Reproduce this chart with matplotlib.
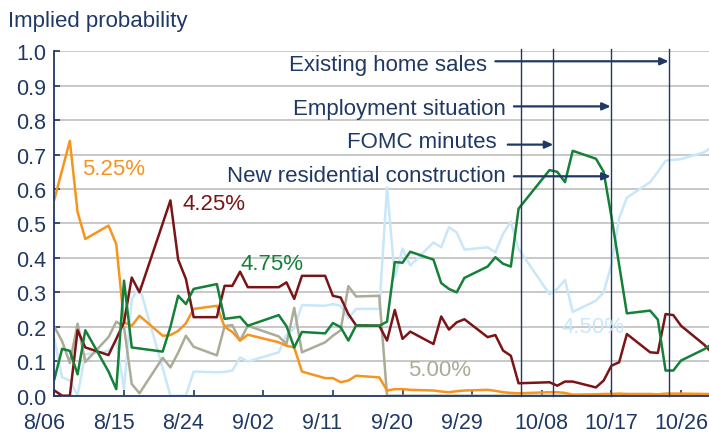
import matplotlib
matplotlib.use("Agg")
import matplotlib.pyplot as plt
import matplotlib.dates as mdates
import matplotlib.transforms as mtransforms
import pandas as pd

# trading days, Aug 6 - Oct 30 2007
aug_days = [6, 7, 8, 9, 10, 13, 14, 15, 16, 17, 20, 21, 22, 23, 24, 27, 28, 29, 30, 31]
sep_days = [4, 5, 6, 7, 10, 11, 12, 13, 14, 17, 18, 19, 20, 21, 24, 25, 26, 27, 28]
oct_days = [1, 2, 3, 4, 5, 9, 10, 11, 12, 15, 16, 17, 18, 19, 22, 23, 24, 25, 26, 29, 30]

dates = pd.to_datetime([f"2007-08-{d:02d}" for d in aug_days]
                       + [f"2007-09-{d:02d}" for d in sep_days]
                       + [f"2007-10-{d:02d}" for d in oct_days])

p525 = [0.57, 0.655, 0.74, 0.533, 0.455, 0.494, 0.44, 0.213, 0.203, 0.232,
        0.174, 0.176, 0.188, 0.21, 0.252, 0.261, 0.2, 0.185, 0.16, 0.177,
        0.155, 0.145, 0.14, 0.07, 0.051, 0.051, 0.039, 0.044, 0.058,
        0.053, 0.015, 0.019, 0.019, 0.017, 0.015, 0.012, 0.01, 0.013, 0.015,
        0.017, 0.014, 0.01, 0.008, 0.007, 0.01, 0.01, 0.008, 0.003, 0.004,
        0.005, 0.005, 0.006, 0.005, 0.005, 0.004, 0.006, 0.006, 0.006, 0.005, 0.005]
p425 = [0.015, 0.0, 0.0, 0.19, 0.14, 0.118, 0.165, 0.213, 0.343, 0.3,
        0.5, 0.567, 0.395, 0.339, 0.228, 0.228, 0.319, 0.319, 0.36, 0.315,
        0.315, 0.329, 0.281, 0.348, 0.348, 0.29, 0.285, 0.237, 0.204,
        0.203, 0.16, 0.249, 0.165, 0.186, 0.15, 0.23, 0.192, 0.213, 0.222,
        0.17, 0.176, 0.131, 0.116, 0.036, 0.039, 0.029, 0.041, 0.041, 0.024,
        0.044, 0.087, 0.097, 0.179, 0.126, 0.124, 0.237, 0.234, 0.203, 0.148, 0.124]
p475 = [0.048, 0.136, 0.13, 0.062, 0.19, 0.07, 0.019, 0.334, 0.14, 0.137,
        0.128, 0.2, 0.29, 0.266, 0.31, 0.324, 0.223, 0.226, 0.229, 0.203,
        0.234, 0.202, 0.14, 0.185, 0.181, 0.211, 0.199, 0.16, 0.204,
        0.203, 0.215, 0.388, 0.386, 0.418, 0.395, 0.327, 0.31, 0.3, 0.342,
        0.375, 0.402, 0.383, 0.375, 0.543, 0.655, 0.65, 0.62, 0.711, 0.688,
        0.65, 0.52, 0.38, 0.239, 0.247, 0.221, 0.073, 0.073, 0.102, 0.135, 0.15]
p450 = [0.165, 0.053, 0.044, 0.0, 0.12, 0.13, 0.16, 0.02, 0.28, 0.317,
        0.08, 0.0, 0.0, 0.0, 0.07, 0.068, 0.069, 0.073, 0.111, 0.099,
        0.126, 0.176, 0.196, 0.263, 0.261, 0.266, 0.261, 0.225, 0.252,
        0.252, 0.605, 0.344, 0.427, 0.378, 0.445, 0.431, 0.489, 0.474, 0.424,
        0.431, 0.416, 0.47, 0.505, 0.426, 0.295, 0.31, 0.336, 0.243, 0.276,
        0.3, 0.38, 0.515, 0.575, 0.62, 0.65, 0.682, 0.685, 0.687, 0.707, 0.722]
p500 = [0.2, 0.158, 0.095, 0.209, 0.098, 0.17, 0.215, 0.2, 0.034, 0.007,
        0.11, 0.082, 0.125, 0.174, 0.142, 0.117, 0.202, 0.205, 0.16, 0.203,
        0.172, 0.15, 0.255, 0.126, 0.155, 0.174, 0.19, 0.318, 0.288,
        0.29] + [0.0] * 30

tick_dates = pd.to_datetime(["2007-08-06", "2007-08-15", "2007-08-24", "2007-09-02",
                             "2007-09-11", "2007-09-20", "2007-09-29", "2007-10-08",
                             "2007-10-17", "2007-10-26"])
tick_labels = ["8/06", "8/15", "8/24", "9/02", "9/11", "9/20", "9/29",
               "10/08", "10/17", "10/26"]

event_times = pd.to_datetime(["2007-10-05 07:00", "2007-10-09 12:00",
                              "2007-10-16 22:00", "2007-10-24 10:00"])

navy = "#203864"
c525 = "#F7941D"
c425 = "#7B1416"
c475 = "#158038"
c450 = "#C9E7F8"
c500 = "#ABAB98"

plt.rcParams["font.family"] = ["Liberation Sans", "DejaVu Sans"]

fig = plt.figure(figsize=(7.09, 4.39), dpi=100)
ax = fig.add_axes([0.0767, 0.0964, 0.9275, 0.7845])

base = mdates.date2num(pd.Timestamp("2007-08-06"))
ax.set_xlim(base, base + 85)
ax.set_ylim(0, 1.0)

ax.set_yticks([i / 10 for i in range(11)])
ax.set_yticklabels([f"{i / 10:.1f}" for i in range(11)])
ax.grid(axis="y", color="#BFBFBF", lw=1.2)
ax.set_axisbelow(True)

lw = 1.8
ax.plot(dates, p450, color=c450, lw=lw)
ax.plot(dates, p500, color=c500, lw=lw)
ax.plot(dates, p525, color=c525, lw=lw)
ax.plot(dates, p425, color=c425, lw=lw)
ax.plot(dates, p475, color=c475, lw=lw)

for t in event_times:
    ax.plot([t, t], [0, 1.007], color=navy, lw=1.0, clip_on=False)

ax.set_xticks(tick_dates)
ax.set_xticklabels(tick_labels)
ax.set_xlim(base, base + 85)

for sp in ["top", "right"]:
    ax.spines[sp].set_visible(False)
for sp in ["left", "bottom"]:
    ax.spines[sp].set_color(navy)
    ax.spines[sp].set_linewidth(1.3)

ax.tick_params(axis="both", direction="in", colors=navy, labelsize=15.5, length=4, width=1.2)
ax.tick_params(axis="x", pad=12)
ax.tick_params(axis="y", pad=6)

shift = mtransforms.ScaledTranslation(-10.5 / 100, 0, fig.dpi_scale_trans)
for lab in ax.get_xticklabels():
    if not lab.get_text().startswith("10"):
        lab.set_transform(lab.get_transform() + shift)

# series labels
ax.text(base + 3.57, 0.643, "5.25%", color=c525, fontsize=16)
ax.text(base + 16.5, 0.542, "4.25%", color=c425, fontsize=16)
ax.text(base + 24.1, 0.368, "4.75%", color=c475, fontsize=16)
ax.text(base + 65.6, 0.184, "4.50%", color=c450, fontsize=16)
ax.text(base + 45.7, 0.061, "5.00%", color=c500, fontsize=16)

# event annotations
ev = [mdates.date2num(t) for t in event_times]
notes = [("Existing home sales", 55.9, 0.945, 57.0, ev[3], 0.971),
         ("Employment situation", 58.4, 0.818, 59.4, ev[2], 0.840),
         ("FOMC minutes", 57.2, 0.721, 58.6, ev[1], 0.729),
         ("New residential construction", 58.4, 0.624, 59.4, ev[2], 0.637)]
for txt, xe, yb, xa, xb, ya in notes:
    ax.text(base + xe, yb, txt, color=navy, fontsize=16, ha="right", va="baseline")
    ax.annotate("", xy=(xb, ya), xytext=(base + xa, ya),
                arrowprops=dict(arrowstyle="-|>,head_length=0.45,head_width=0.2",
                                color=navy, lw=1.6, mutation_scale=11,
                                shrinkA=0, shrinkB=0))

fig.text(8 / 709, 1 - 26.7 / 439, "Implied probability", color=navy, fontsize=16,
         va="baseline")

fig.savefig("out.png", dpi=100)
